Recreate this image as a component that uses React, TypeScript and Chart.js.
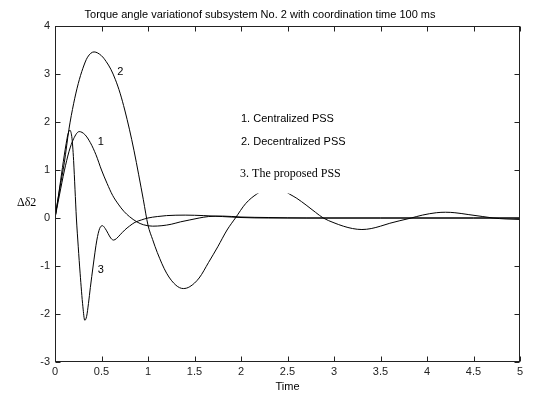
import React, { useEffect, useRef } from 'react';
import { Chart, registerables } from 'chart.js';

Chart.register(...registerables);

// ---- Data ----
const titleText = 'Torque angle variationof subsystem No. 2 with coordination time 100 ms';
const xTitle = 'Time';
const yTitle = 'Δδ2';

// Curve 1: Centralized PSS
const t1 = [0, 0.05, 0.1, 0.15, 0.2, 0.26, 0.32, 0.38, 0.44, 0.5, 0.56, 0.62, 0.68, 0.74, 0.8, 0.88, 0.95, 1.05, 1.15, 1.25, 1.35, 1.45, 1.55, 1.65, 1.8, 2.0, 2.3, 2.7, 3.5, 4.5, 5.0];
const v1 = [0, 0.5, 0.98, 1.38, 1.65, 1.8, 1.74, 1.57, 1.32, 1.0, 0.72, 0.47, 0.29, 0.14, 0.03, -0.08, -0.14, -0.17, -0.16, -0.13, -0.08, -0.04, 0.0, 0.03, 0.04, 0.02, 0.01, 0, 0, 0, 0];

// Curve 2: Decentralized PSS
const t2 = [0, 0.05, 0.1, 0.15, 0.2, 0.25, 0.3, 0.35, 0.42, 0.5, 0.55, 0.6, 0.65, 0.7, 0.75, 0.8, 0.85, 0.9, 0.95, 1.0, 1.05, 1.1, 1.2, 1.3, 1.38, 1.45, 1.55, 1.65, 1.75, 1.85, 1.94, 2.05, 2.17, 2.3, 2.4, 2.52, 2.6, 2.7, 2.8, 2.885, 3.0, 3.1, 3.2, 3.3, 3.4, 3.5, 3.6, 3.7, 3.83, 3.95, 4.1, 4.2, 4.3, 4.45, 4.6, 4.71, 4.85, 5.0];
const v2 = [0, 0.6, 1.15, 1.85, 2.38, 2.8, 3.12, 3.35, 3.46, 3.38, 3.26, 3.1, 2.88, 2.6, 2.25, 1.85, 1.4, 0.9, 0.38, -0.15, -0.45, -0.72, -1.15, -1.4, -1.47, -1.43, -1.25, -0.93, -0.6, -0.25, 0.0, 0.3, 0.5, 0.62, 0.63, 0.5, 0.41, 0.27, 0.12, 0, -0.1, -0.17, -0.22, -0.24, -0.22, -0.17, -0.11, -0.06, 0, 0.06, 0.11, 0.12, 0.11, 0.07, 0.03, 0, -0.02, -0.03];

// Curve 3: The proposed PSS
const t3 = [0, 0.04, 0.08, 0.12, 0.14, 0.16, 0.18, 0.19, 0.2, 0.215, 0.23, 0.25, 0.27, 0.3, 0.32, 0.34, 0.36, 0.38, 0.41, 0.45, 0.48, 0.51, 0.54, 0.57, 0.6, 0.63, 0.66, 0.7, 0.75, 0.8, 0.86, 0.93, 1.0, 1.1, 1.2, 1.4, 1.6, 1.8, 2.0, 2.3, 2.7, 3.5, 4.5, 5.0];
const v3 = [0, 0.5, 1.05, 1.55, 1.75, 1.83, 1.7, 1.5, 1.2, 0.6, 0.0, -0.6, -1.15, -1.85, -2.13, -2.05, -1.78, -1.45, -1.0, -0.46, -0.22, -0.16, -0.22, -0.32, -0.42, -0.46, -0.43, -0.35, -0.25, -0.17, -0.09, -0.04, 0.0, 0.03, 0.05, 0.06, 0.05, 0.03, 0.01, 0, 0, 0, 0, 0];

// Curve number labels (data coordinates)
const curveLabels = ['1', '2', '3'];
const curveLabelT = [0.46, 0.67, 0.46];
const curveLabelV = [1.58, 3.04, -1.08];

// Legend text lines (data coordinates of their left/middle)
const legendLines = ['1. Centralized PSS', '2. Decentralized PSS', '3. The proposed PSS'];
const legendT = [2.0, 2.0, 1.99];
const legendV = [2.06, 1.58, 0.92];
// white box behind third legend line (t range, v range)
const boxT = [1.98, 3.25];
const boxV = [0.51, 1.25];

const SANS = '"Liberation Sans", Arial, Helvetica, sans-serif';
const SERIF = '"Liberation Serif", "Times New Roman", serif';

const toPts = (ts: number[], vs: number[]) => ts.map((t, i) => ({ x: t, y: vs[i] }));
const fmt = (v: any) => String(Math.round(Number(v) * 10) / 10);

const framePlugin = {
  id: 'matlabFrame',
  afterDatasetsDraw(chart: any) {
    const { ctx, chartArea: a } = chart;
    const xs = chart.scales.x;
    const ys = chart.scales.y;
    ctx.save();

    // white box behind third legend line
    const bx0 = xs.getPixelForValue(boxT[0]);
    const bx1 = xs.getPixelForValue(boxT[1]);
    const by0 = ys.getPixelForValue(boxV[1]);
    const by1 = ys.getPixelForValue(boxV[0]);
    ctx.fillStyle = '#fff';
    ctx.fillRect(bx0, by0, bx1 - bx0, by1 - by0);

    ctx.fillStyle = '#000';
    ctx.textBaseline = 'middle';
    ctx.textAlign = 'left';
    legendLines.forEach((s, i) => {
      ctx.font = i === 2 ? `12px ${SERIF}` : `11px ${SANS}`;
      ctx.fillText(s, xs.getPixelForValue(legendT[i]), ys.getPixelForValue(legendV[i]));
    });
    ctx.font = `11px ${SANS}`;
    curveLabels.forEach((s, i) => {
      ctx.fillText(s, xs.getPixelForValue(curveLabelT[i]), ys.getPixelForValue(curveLabelV[i]));
    });
    ctx.font = `12px ${SERIF}`;
    ctx.fillText(yTitle, 17, ys.getPixelForValue(0.32));

    // frame
    const L = Math.round(a.left) + 0.5;
    const R = Math.round(a.right) - 0.5;
    const T = Math.round(a.top) + 0.5;
    const B = Math.round(a.bottom) - 0.5;
    ctx.strokeStyle = '#222';
    ctx.lineWidth = 1;
    ctx.strokeRect(L, T, R - L, B - T);
    const tl = 5;
    ctx.beginPath();
    xs.ticks.forEach((_: any, i: number) => {
      const px = Math.round(xs.getPixelForTick(i)) + 0.5;
      ctx.moveTo(px, B); ctx.lineTo(px, B - tl);
      ctx.moveTo(px, T); ctx.lineTo(px, T + tl);
    });
    ys.ticks.forEach((_: any, i: number) => {
      const py = Math.round(ys.getPixelForTick(i)) + 0.5;
      ctx.moveTo(L, py); ctx.lineTo(L + tl, py);
      ctx.moveTo(R, py); ctx.lineTo(R - tl, py);
    });
    ctx.stroke();
    ctx.restore();
  },
};

export default function App() {
  const ref = useRef<HTMLCanvasElement | null>(null);
  useEffect(() => {
    if (!ref.current) return;
    const lineDs = (ts: number[], vs: number[]) => ({
      data: toPts(ts, vs),
      borderColor: '#000',
      borderWidth: 1,
      pointRadius: 0,
      cubicInterpolationMode: 'monotone' as const,
      fill: false,
    });
    const chart = new Chart(ref.current, {
      type: 'line',
      data: {
        datasets: [lineDs(t1, v1), lineDs(t2, v2), lineDs(t3, v3)],
      },
      options: {
        animation: false,
        responsive: false,
        devicePixelRatio: 1,
        layout: { padding: { top: 0, right: 28, bottom: 0, left: 0 } },
        plugins: {
          legend: { display: false },
          tooltip: { enabled: false },
          title: {
            display: true,
            text: titleText,
            color: '#000',
            font: { size: 11, family: SANS, weight: 'normal' },
            padding: { top: 8, bottom: 4.8 },
          },
        },
        scales: {
          x: {
            type: 'linear',
            min: 0,
            max: 5,
            grid: { display: false, drawTicks: false },
            border: { display: false },
            ticks: { stepSize: 0.5, padding: 3, color: '#222', font: { size: 11, family: SANS }, maxRotation: 0, callback: fmt },
            title: { display: true, text: xTitle, color: '#000', font: { size: 11, family: SANS }, padding: { top: 0, bottom: 0 } },
            afterFit: (s: any) => { s.height = 32; },
          },
          y: {
            type: 'linear',
            min: -3,
            max: 4,
            grid: { display: false, drawTicks: false },
            border: { display: false },
            ticks: { stepSize: 1, padding: 5, color: '#222', font: { size: 11, family: SANS }, callback: fmt },
            afterFit: (s: any) => { s.width = 55; },
          },
        },
      },
      plugins: [framePlugin],
    } as any);
    return () => chart.destroy();
  }, []);
  return (
    <div style={{ position: 'absolute', left: 0, top: 0, width: 548, height: 394, background: '#fff' }}>
      <canvas ref={ref} width={548} height={394} style={{ display: 'block' }} />
    </div>
  );
}
